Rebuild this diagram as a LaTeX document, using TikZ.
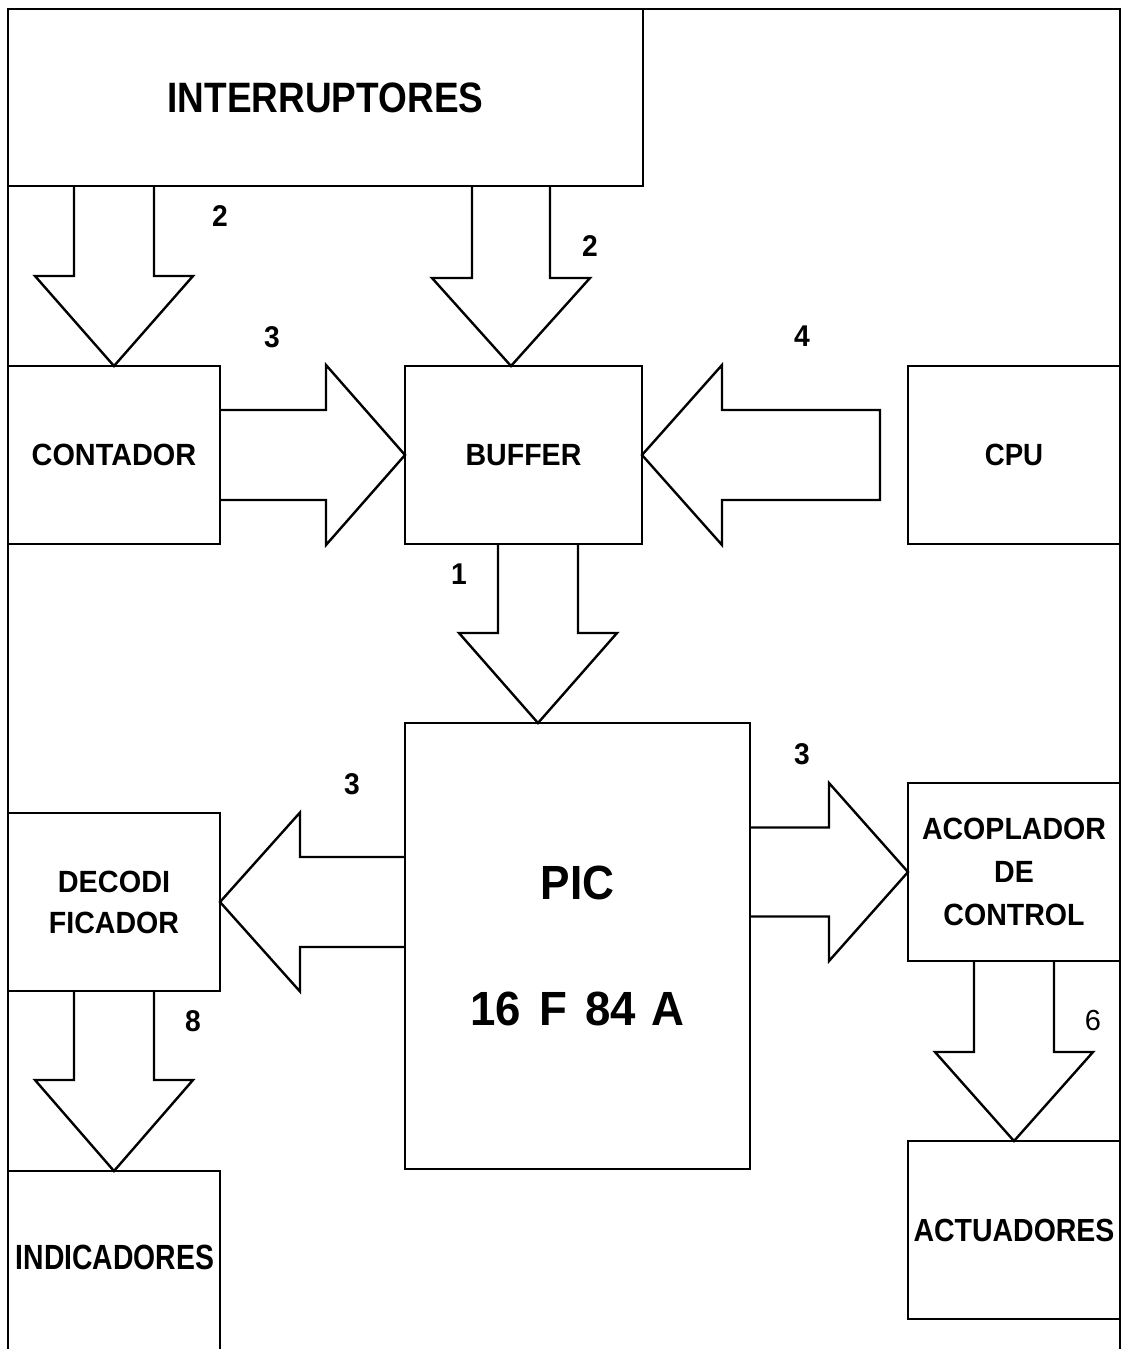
\documentclass[tikz,border=0pt]{standalone}
\usepackage{fontspec}
\usepackage{graphicx}
\setmainfont{Liberation Sans}
\usetikzlibrary{calc}
\newcommand\hsx[2]{\scalebox{#1}[1]{#2}}
\newcommand\fatdown[5]{\draw[fat] let \p1=(#1), \p2=(#2) in
  (\x1-#3pt,\y2) -- (\x1-#3pt,\y1+#5pt) -- (\x1-#4pt,\y1+#5pt) -- (\x1,\y1)
  -- (\x1+#4pt,\y1+#5pt) -- (\x1+#3pt,\y1+#5pt) -- (\x1+#3pt,\y2);}
\newcommand\fatside[5]{\draw[fat] let \p1=(#1), \p2=(#2) in
  (\x2,\y1+#3pt) -- ({\x1-(#5pt)},\y1+#3pt) -- ({\x1-(#5pt)},\y1+#4pt) -- (\x1,\y1)
  -- ({\x1-(#5pt)},\y1-#4pt) -- ({\x1-(#5pt)},\y1-#3pt) -- (\x2,\y1-#3pt);}
\newcommand\fatsideclosed[5]{\draw[fat] let \p1=(#1), \p2=(#2) in
  (\x2,\y1+#3pt) -- ({\x1-(#5pt)},\y1+#3pt) -- ({\x1-(#5pt)},\y1+#4pt) -- (\x1,\y1)
  -- ({\x1-(#5pt)},\y1-#4pt) -- ({\x1-(#5pt)},\y1-#3pt) -- (\x2,\y1-#3pt) -- cycle;}
\tikzset{
  box/.style={draw, line width=2.6pt, rectangle, inner sep=0pt, outer sep=0pt,
    align=center, font=\fontsize{30.7}{41}\selectfont\bfseries},
  fat/.style={draw, line width=2.4pt, line join=miter},
  num/.style={inner sep=0pt, font=\fontsize{30}{30}\selectfont\bfseries},
  framel/.style={draw, line width=2.6pt}
}
\begin{document}
\begin{tikzpicture}[x=1pt,y=-1pt]
\useasboundingbox (0,0) rectangle (1124,1349);
\clip (0,0) rectangle (1124,1349);
\fill[white] (0,0) rectangle (1124,1349);
\draw[framel] (8,1355) -- (8,9) -- (1120,9) -- (1120,1355);

% boxes
\node[box, minimum width=635, minimum height=177, font=\fontsize{42.5}{42.5}\selectfont\bfseries] (intr) at (325.5,97.5) {\hsx{0.87}{INTERRUPTORES}};
\node[box, minimum width=212, minimum height=178] (cont) at (114,455) {\hsx{0.94}{CONTADOR}};
\node[box, minimum width=237, minimum height=178] (buf) at (523.5,455) {\hsx{0.93}{BUFFER}};
\node[box, minimum width=212, minimum height=178] (cpu) at (1014,455) {\hsx{0.9}{CPU}};
\node[box, minimum width=345, minimum height=446, font=\fontsize{48}{126}\selectfont\bfseries] (pic) at (577.5,946) {\hsx{0.92}{PIC}\\\hsx{0.95}{16\hspace{0.4em}F\hspace{0.4em}84\hspace{0.35em}A}};
\node[box, minimum width=212, minimum height=178] (deco) at (114,902) {\hsx{0.94}{DECODI}\\\hsx{0.93}{FICADOR}};
\node[box, minimum width=212, minimum height=178, font=\fontsize{30.7}{43}\selectfont\bfseries] (acop) at (1014,872) {\hsx{0.93}{ACOPLADOR}\\\hsx{0.93}{DE}\\\hsx{0.93}{CONTROL}};
\node[box, minimum width=212, minimum height=178, font=\fontsize{32}{32}\selectfont\bfseries] (actu) at (1014,1230) {\hsx{0.89}{ACTUADORES}};
\node[box, minimum width=212, minimum height=220] (indi) at (114,1281) {};
\node[fill=white, inner xsep=3.5pt, inner ysep=12pt, font=\fontsize{35}{35}\selectfont\bfseries] (inditext) at (115,1257.5) {\hsx{0.81}{INDICADORES}};

% fat arrows
\fatdown{cont.north}{intr.south}{40}{79}{90}
\fatdown{$(buf.north)+(-12.5,0)$}{intr.south}{39}{79}{88}
\fatdown{$(pic.north)+(-39.5,0)$}{buf.south}{40}{79}{90}
\fatdown{indi.north}{deco.south}{40}{79}{91}
\fatdown{actu.north}{acop.south}{40}{79}{89}
\fatside{buf.west}{cont.east}{45}{90}{79}
\coordinate (cputail) at ($(cpu.west)+(-28,0)$);
\fatsideclosed{buf.east}{cputail}{45}{90}{-80}
\fatside{deco.east}{pic.west}{45}{89.5}{-80}
\fatside{acop.west}{pic.east}{44.5}{89}{79}

% labels
\node[num] (n1) at (220,216) {\hsx{0.94}{2}};
\node[num] (n2) at (590,246) {\hsx{0.94}{2}};
\node[num] (n3) at (272,337) {\hsx{0.94}{3}};
\node[num] (n4) at (802,336) {\hsx{0.94}{4}};
\node[num] (n5) at (459,574) {\hsx{0.94}{1}};
\node[num] (n6) at (352,784) {\hsx{0.94}{3}};
\node[num] (n7) at (802,754) {\hsx{0.94}{3}};
\node[num] (n8) at (193,1021) {\hsx{0.94}{8}};
\node[num, font=\fontsize{29}{29}\selectfont] (n9) at (1093,1021) {6};
\end{tikzpicture}
\end{document}
